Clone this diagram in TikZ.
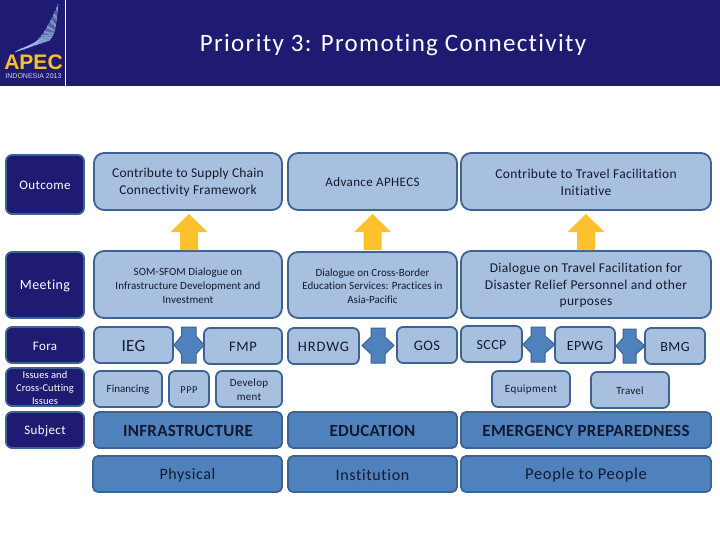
\documentclass[tikz,border=0pt]{standalone}
\usepackage{fontspec}
\setmainfont{Carlito}[Ligatures=NoCommon]
\definecolor{navy}{HTML}{1F1B72}
\definecolor{edgeblue}{HTML}{3F6390}
\definecolor{lightbox}{HTML}{A7C0DF}
\definecolor{midbox}{HTML}{4F81BD}
\definecolor{goldarrow}{HTML}{FDC12D}
\definecolor{darktext}{HTML}{14192E}
\definecolor{feather}{HTML}{A9CDEE}
\newcommand{\ft}[3]{\addfontfeature{LetterSpace=#3}\fontsize{#1}{#2}\selectfont}
\newcommand{\bx}[8]{% name, style, x1, y1, x2, y2, font, text
  \node[#2,minimum width=#5pt-#3pt,minimum height=#6pt-#4pt] (#1) at ({(#3+#5)/2},{(#4+#6)/2}) {};
  \node[#2txt,font={#7}] (#1-t) at ([yshift=-1pt]#1.center) {#8};}
\newcommand{\yarrow}[3]{% cx, tip y, base y
  \fill[goldarrow] (#1-18.5,#2+18)--(#1,#2)--(#1+18.5,#2+18)--(#1+9,#2+18)--(#1+9,#3)--(#1-9,#3)--(#1-9,#2+18)--cycle;}
\newcommand{\dblshape}[6]{% left tip, shaft l, shaft r, right tip, top, bottom
  \filldraw[fill=midbox,draw=edgeblue,line width=1pt,line join=miter]
   (#1,{(#5+#6)/2})--(#2,#5+9)--(#2,#5)--(#3,#5)--(#3,#5+9)--(#4,{(#5+#6)/2})--(#3,#6-9)--(#3,#6)--(#2,#6)--(#2,#6-9)--cycle;}
\tikzset{
  boxbase/.style={draw=edgeblue,line width=1.8pt,inner sep=0pt,outer sep=0pt,anchor=center},
  labelbox/.style={boxbase,fill=navy,rounded corners=6pt},
  softbig/.style={boxbase,fill=lightbox,rounded corners=10pt},
  softsmall/.style={boxbase,fill=lightbox,rounded corners=6pt},
  strongbox/.style={boxbase,fill=midbox,rounded corners=5pt},
  txtbase/.style={align=center,inner sep=0pt,outer sep=0pt,anchor=center},
  labelboxtxt/.style={txtbase,text=white},
  softbigtxt/.style={txtbase,text=darktext},
  softsmalltxt/.style={txtbase,text=darktext},
  strongboxtxt/.style={txtbase,text=darktext},
}
\begin{document}
\begin{tikzpicture}[x=1pt,y=-1pt]
\useasboundingbox (0,0) rectangle (720,540);
\fill[white] (0,0) rectangle (720,540);
\fill[navy] (0,0) rectangle (720,86.5);
\draw[white,line width=1pt] (65.5,0) -- (65.5,86.5);
% logo feather
\foreach \i in {0,...,26}{
  \pgfmathsetmacro{\t}{\i/26}
  \pgfmathsetmacro{\xa}{15+34*\t}
  \pgfmathsetmacro{\ya}{52-6*\t}
  \pgfmathsetmacro{\xb}{20+38*\t}
  \pgfmathsetmacro{\yb}{50-46*\t*\t}
  \draw[color=feather,line width=.6pt,opacity=.85]
     (\xa,\ya-\i*0.2) .. controls (\xa+6,\ya-3-\i*0.4) .. (\xb,\yb);
}
\node[inner sep=0pt,text=white,font={\ft{25}{29}{5.3}}] (hdr) at (393,45.5) {Priority 3: Promoting Connectivity};
\node[inner sep=0pt,text=goldarrow,font={\fontspec{Liberation Sans}\bfseries\fontsize{21}{21}\selectfont}] (apec) at (33.5,62) {APEC};
\node[inner sep=0pt,text=white!80!navy,font={\fontspec{Liberation Sans}\fontsize{7}{7}\selectfont}] (indo) at (33.5,76) {INDONESIA 2013};
% row labels
\bx{outcome}{labelbox}{6}{155}{84}{214}{\ft{13}{15}{3}}{Outcome}
\bx{meeting}{labelbox}{6}{252}{84}{318}{\ft{14}{16}{3}}{Meeting}
\bx{fora}{labelbox}{6}{327}{84}{363}{\ft{13}{15}{3}}{Fora}
\bx{issues}{labelbox}{6}{368}{84}{406}{\ft{10.5}{13}{0.5}}{Issues and\\Cross-Cutting\\Issues}
\bx{subject}{labelbox}{6}{412}{84}{448}{\ft{13}{15}{3}}{Subject}
% outcomes
\bx{supply}{softbig}{94}{153}{282}{210}{\ft{13.5}{17}{1.5}}{Contribute to Supply Chain\\Connectivity Framework}
\bx{aphecs}{softbig}{288}{153}{457}{210}{\ft{13}{16}{3}}{Advance APHECS}
\bx{travelfac}{softbig}{461}{153}{711}{210}{\ft{13.5}{17}{2.5}}{Contribute to Travel Facilitation\\Initiative}
% meetings
\bx{som}{softbig}{94}{251}{282}{318}{\ft{11}{14}{0.5}}{SOM-SFOM Dialogue on\\Infrastructure Development and\\Investment}
\bx{border}{softbig}{288}{252}{457}{318}{\ft{11}{13.5}{0}}{Dialogue on Cross-Border\\Education Services: Practices in\\Asia-Pacific}
\bx{disaster}{softbig}{461}{251}{711}{318}{\ft{13.5}{16.5}{2.5}}{Dialogue on Travel Facilitation for\\Disaster Relief Personnel and other\\purposes}
% yellow arrows
\yarrow{189}{214}{250}
\yarrow{372.5}{214}{250}
\yarrow{586}{214}{250}
% fora
\bx{ieg}{softsmall}{94}{327}{173}{363}{\ft{17}{20}{2}}{IEG}
\bx{fmp}{softsmall}{204}{328}{282}{364}{\ft{14.5}{17}{5}}{FMP}
\bx{hrdwg}{softsmall}{288}{328}{359}{364}{\ft{14.5}{17}{6}}{HRDWG}
\bx{gos}{softsmall}{397}{327}{457}{363}{\ft{14.5}{17}{3}}{GOS}
\bx{sccp}{softsmall}{461}{326}{522}{362}{\ft{14}{17}{3}}{SCCP}
\bx{epwg}{softsmall}{555}{327}{615}{363}{\ft{14}{17}{3}}{EPWG}
\bx{bmg}{softsmall}{645}{328}{705}{364}{\ft{14}{17}{3}}{BMG}
\dblshape{174}{181.5}{196}{204}{327}{363}
\dblshape{362}{371}{385}{394}{328}{363}
\dblshape{523}{531}{545}{555}{327}{362}
\dblshape{616}{623}{636}{645}{329}{363}
% issues
\bx{financing}{softsmall}{94}{371}{162}{407}{\ft{11}{13}{0}}{Financing}
\bx{ppp}{softsmall}{169}{371}{209}{407}{\ft{10.5}{13}{4}}{PPP}
\bx{develop}{softsmall}{216}{371}{282}{407}{\ft{11}{14}{2.5}}{Develop\\ment}
\bx{equip}{softsmall}{492}{371}{570}{407}{\ft{11}{13}{4}}{Equipment}
\bx{travel}{softsmall}{591}{372}{669}{408}{\ft{11}{13}{2}}{Travel}
% subject
\bx{infra}{strongbox}{94}{412}{282}{448}{\bfseries\ft{17}{19}{1.5}}{INFRASTRUCTURE}
\bx{edu}{strongbox}{288}{412}{457}{448}{\bfseries\ft{17}{19}{1.5}}{EDUCATION}
\bx{emerg}{strongbox}{461}{412}{711}{448}{\bfseries\ft{17}{19}{1.5}}{EMERGENCY PREPAREDNESS}
% bottom
\bx{phys}{strongbox}{93}{456}{282}{492}{\ft{16}{19}{4}}{Physical}
\bx{inst}{strongbox}{288}{456}{457}{492}{\ft{16}{19}{4}}{Institution}
\bx{people}{strongbox}{461}{456}{711}{492}{\ft{16.5}{19}{4}}{People to People}
\end{tikzpicture}
\end{document}
